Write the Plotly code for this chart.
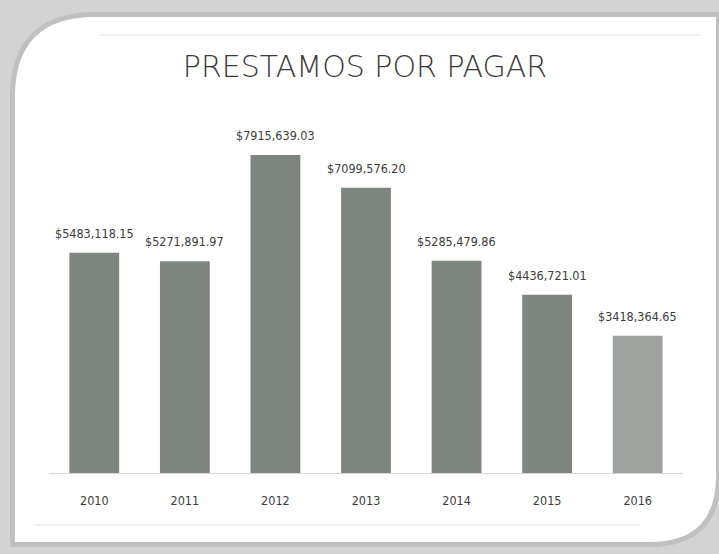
import plotly.graph_objects as go

years = ["2010", "2011", "2012", "2013", "2014", "2015", "2016"]
values = [5483118.15, 5271891.97, 7915639.03, 7099576.20, 5285479.86, 4436721.01, 3418364.65]
bar_colors = ["#7e847e", "#7e847e", "#7e847e", "#7e847e", "#7e847e", "#7e847e", "#9fa39f"]
title_text = "PRESTAMOS POR PAGAR"


def fmt(v):
    s = f"{v:.2f}"
    ip, dec = s.split(".")
    return f"${ip[:-3]},{ip[-3:]}.{dec}"


W, H = 719, 554
L, R, T, B = 49, 36, 120, 81
PW, PH = W - L - R, H - T - B
BASE = H - B


def P(px, py):
    return f"{(px - L) / PW:.5f},{(BASE - py) / PH:.5f}"


card = (f"M {P(15,542)} L {P(15,97)} Q {P(15,17)} {P(95,17)} L {P(716,17)} "
        f"L {P(716,476)} Q {P(716,542)} {P(650,542)} Z")

fig = go.Figure()
fig.add_trace(go.Bar(
    x=years, y=values,
    marker=dict(color=bar_colors, line=dict(width=0)),
    hoverinfo="skip",
))

num_font = dict(family="DejaVu Sans Condensed, Liberation Sans Narrow, sans-serif", size=12.5, color="#3c3c3c")

annotations = []
for i, v in enumerate(values):
    annotations.append(dict(
        x=i, y=v, xref="x", yref="y", text=fmt(v), showarrow=False,
        yanchor="bottom", yshift=10, font=num_font,
    ))

shapes = [
    dict(type="path", path=card, xref="paper", yref="paper", layer="below",
         fillcolor="rgba(0,0,0,0)", line=dict(color="rgba(150,150,150,0.3)", width=10)),
    dict(type="path", path=card, xref="paper", yref="paper", layer="below",
         fillcolor="#ffffff", line=dict(width=0)),
    dict(type="line", xref="paper", yref="paper", layer="below",
         x0=(100 - L) / PW, x1=(700 - L) / PW, y0=(BASE - 35) / PH, y1=(BASE - 35) / PH,
         line=dict(color="#e2e2e2", width=1)),
    dict(type="line", xref="paper", yref="paper", layer="below",
         x0=(34 - L) / PW, x1=(640 - L) / PW, y0=(BASE - 525) / PH, y1=(BASE - 525) / PH,
         line=dict(color="#e2e2e2", width=1)),
]

fig.update_layout(
    width=W, height=H,
    margin=dict(l=L, r=R, t=T, b=B, pad=0),
    paper_bgcolor="#d3d3d3",
    plot_bgcolor="rgba(0,0,0,0)",
    showlegend=False,
    bargap=0.45,
    title=dict(
        text=title_text, x=365 / W, xanchor="center", y=1 - 66 / H, yanchor="middle",
        font=dict(family="DejaVu Sans", weight=200, size=30, color="#3a3a3a"),
    ),
    xaxis=dict(
        type="category",
        showline=True, linecolor="#d6d6d6", linewidth=1, showgrid=False, zeroline=False,
        ticks="", tickfont=num_font, ticklabelstandoff=16, fixedrange=True,
    ),
    yaxis=dict(
        range=[0, PH / 4.017e-5], visible=False, showgrid=False, zeroline=False, fixedrange=True,
    ),
    annotations=annotations,
    shapes=shapes,
)

fig.write_html(
    "out.html",
    config={"displayModeBar": False},
    post_script="document.body.style.margin='0';document.body.style.padding='0';",
)
